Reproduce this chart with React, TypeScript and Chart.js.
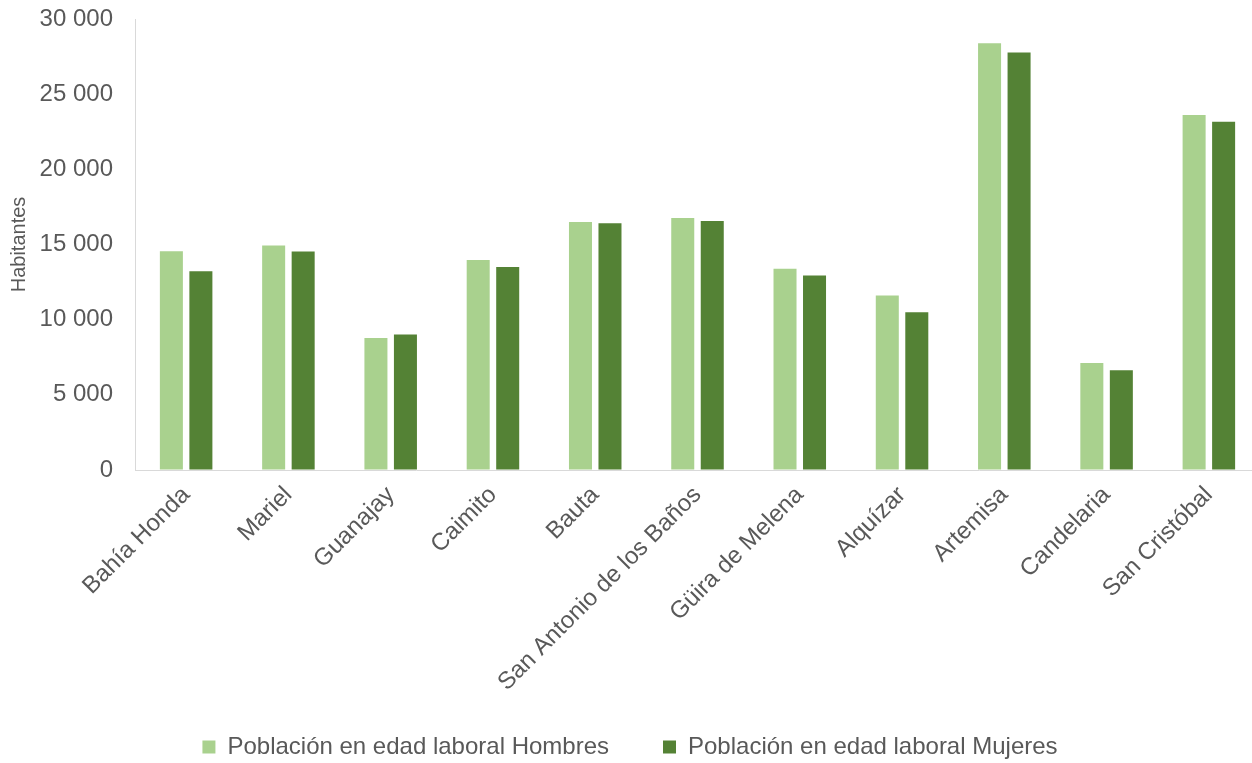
import React, { useEffect, useRef } from "react";
import { Chart, registerables } from "chart.js";

Chart.register(...registerables);

const categories = [
  "Bahía Honda",
  "Mariel",
  "Guanajay",
  "Caimito",
  "Bauta",
  "San Antonio de los Baños",
  "Güira de Melena",
  "Alquízar",
  "Artemisa",
  "Candelaria",
  "San Cristóbal",
];

const hombres = [14550, 14930, 8780, 13970, 16500, 16770, 13390, 11600, 28390, 7110, 23610];
const mujeres = [13220, 14530, 9020, 13510, 16420, 16570, 12930, 10490, 27770, 6640, 23170];

const seriesNames = ["Población en edad laboral Hombres", "Población en edad laboral Mujeres"];
const yTicks = [0, 5000, 10000, 15000, 20000, 25000, 30000];

const FONT = "'Liberation Sans', Arial, sans-serif";
const TEXT = "#595959";
const AXIS = "#d9d9d9";

const W = 1262;
const H = 769;

function fmt(v: number): string {
  return String(v).replace(/\B(?=(\d{3})+(?!\d))/g, " ");
}

export default function App() {
  const ref = useRef<HTMLCanvasElement | null>(null);

  useEffect(() => {
    const canvas = ref.current;
    if (!canvas) return;
    const chart = new Chart(canvas, {
      type: "bar",
      data: {
        labels: categories,
        datasets: [
          {
            label: seriesNames[0],
            data: hombres,
            backgroundColor: "#A9D18E",
            categoryPercentage: 0.577,
            barPercentage: 0.78,
          },
          {
            label: seriesNames[1],
            data: mujeres,
            backgroundColor: "#548235",
            categoryPercentage: 0.577,
            barPercentage: 0.78,
          },
        ],
      },
      options: {
        animation: false,
        responsive: false,
        maintainAspectRatio: false,
        layout: { padding: { left: 0, right: 2, top: 19, bottom: 0 } },
        plugins: {
          tooltip: { enabled: false },
          legend: {
            position: "bottom",
            labels: {
              font: { family: FONT, size: 24 },
              color: TEXT,
              boxWidth: 13,
              boxHeight: 13,
              padding: 54,
            },
          },
        },
        scales: {
          x: {
            afterFit: (scale: any) => {
              scale.height = 211;
              scale._computeLabelArea = () => undefined;
            },
            grid: { display: false, drawTicks: false },
            border: { display: true, color: AXIS, width: 1 },
            ticks: {
              font: { family: FONT, size: 24 },
              color: TEXT,
              minRotation: 45,
              maxRotation: 45,
              autoSkip: false,
              padding: 11,
            },
          },
          y: {
            min: 0,
            max: 30000,
            afterFit: (scale: any) => {
              scale.width = 135;
            },
            afterBuildTicks: (scale: any) => {
              scale.ticks = yTicks.map((v) => ({ value: v }));
            },
            grid: {
              display: true,
              drawOnChartArea: false,
              drawTicks: true,
              tickLength: 22,
              color: "rgba(0,0,0,0)",
              tickColor: "rgba(0,0,0,0)",
            },
            border: { display: true, color: AXIS, width: 1 },
            ticks: {
              font: { family: FONT, size: 24 },
              color: TEXT,
              padding: 0,
              callback: (v: any) => fmt(Number(v)),
            },
            title: {
              display: true,
              text: "Habitantes",
              font: { family: FONT, size: 20 },
              color: TEXT,
              padding: { top: 7, bottom: 0 },
            },
          },
        },
      },
    });
    return () => chart.destroy();
  }, []);

  return (
    <div style={{ position: "fixed", left: 0, top: 0, width: W, height: H, background: "#fff" }}>
      <canvas ref={ref} width={W} height={H} style={{ width: W, height: H }} />
    </div>
  );
}
